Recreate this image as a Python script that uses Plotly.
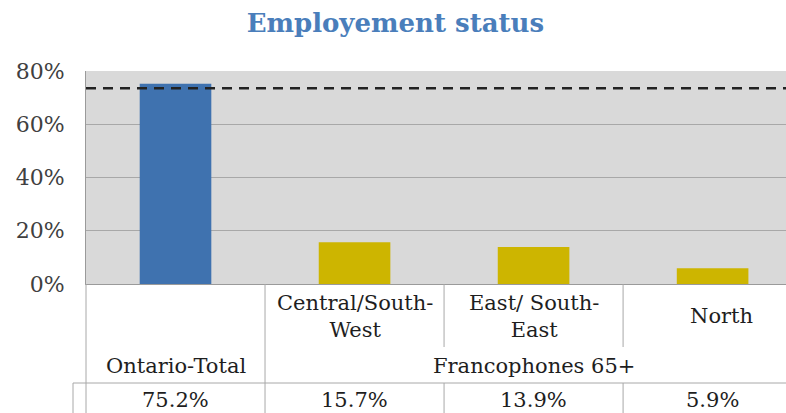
import plotly.graph_objects as go

categories = ["Ontario-Total", "Central/South-West", "East/ South-East", "North"]
row1_labels = ["", "Central/South-<br>West", "East/ South-<br>East", "North"]
group_label = "Francophones 65+"
values = [75.2, 15.7, 13.9, 5.9]
value_labels = ["75.2%", "15.7%", "13.9%", "5.9%"]
benchmark = 73.5
y_ticks = [0, 20, 40, 60, 80]

bar_colors = ["#3F72AF", "#CDB500", "#CDB500", "#CDB500"]
FONT = "DejaVu Serif"
GRID = "#A8A8A8"

x_idx = list(range(len(categories)))

fig = go.Figure()
fig.add_trace(go.Bar(x=x_idx, y=values, width=0.4, marker=dict(color=bar_colors, line=dict(width=0)),
                     hoverinfo="skip"))

# dashed benchmark line
fig.add_shape(type="line", xref="paper", yref="y", x0=0, x1=1, y0=benchmark, y1=benchmark,
              line=dict(color="#222222", width=2.5, dash="10px,7px"))

# table lines (paper coords below plot)
def py(pix):
    return (284 - pix) / 213.0

line_style = dict(color=GRID, width=1)
fig.add_shape(type="line", xref="paper", yref="paper", x0=0, x1=0, y0=0, y1=py(413), line=line_style)
fig.add_shape(type="line", xref="x", yref="paper", x0=0.5, x1=0.5, y0=0, y1=py(413), line=line_style)
for b in (1.5, 2.5):
    fig.add_shape(type="line", xref="x", yref="paper", x0=b, x1=b, y0=0, y1=py(347), line=line_style)
    fig.add_shape(type="line", xref="x", yref="paper", x0=b, x1=b, y0=py(383), y1=py(413), line=line_style)
fig.add_shape(type="line", xref="paper", yref="paper", x0=-13 / 700, x1=1, y0=py(383), y1=py(383), line=line_style)
fig.add_shape(type="line", xref="paper", yref="paper", x0=-13 / 700, x1=-13 / 700, y0=py(383), y1=py(413), line=line_style)

txt_font = dict(family=FONT, size=21, color="#1E1E1E")
for i, lab in enumerate(row1_labels):
    if lab:
        fig.add_annotation(x=i + (0.05 if i == 3 else 0), y=py(316), xref="x", yref="paper", text=lab,
                           showarrow=False, font=txt_font, yanchor="middle")
fig.add_annotation(x=0, y=py(366), xref="x", yref="paper", text=categories[0], showarrow=False,
                   font=txt_font, yanchor="middle")
fig.add_annotation(x=2, y=py(366), xref="x", yref="paper", text=group_label, showarrow=False,
                   font=txt_font, yanchor="middle")
for i, v in enumerate(value_labels):
    fig.add_annotation(x=i, y=py(400), xref="x", yref="paper", text=v, showarrow=False,
                       font=txt_font, yanchor="middle")

fig.update_layout(
    width=786, height=413,
    margin=dict(l=86, r=0, t=71, b=129),
    paper_bgcolor="white", plot_bgcolor="#D9D9D9",
    showlegend=False,
    title=dict(text="<b>Employement status</b>", x=0.503, xanchor="center", y=0.945, yanchor="middle",
               font=dict(family=FONT, size=26, color="#4A7EBB")),
    xaxis=dict(range=[-0.5, 3.41], showticklabels=False, showgrid=False, zeroline=False,
               showline=True, linecolor="#9A9A9A", linewidth=1, fixedrange=True),
    yaxis=dict(range=[0, 80], tickvals=y_ticks, ticktext=[f"{t}%" for t in y_ticks],
               showgrid=True, gridcolor=GRID, gridwidth=1, zeroline=False,
               showline=True, linecolor="#9A9A9A", linewidth=1, ticks="", ticklen=0,
               tickfont=dict(family=FONT, size=22, color="#404040"), ticklabelstandoff=16),
)

fig.write_html("out.html", config={"displayModeBar": False},
               post_script="document.body.style.margin='0';document.body.style.overflow='hidden';")
